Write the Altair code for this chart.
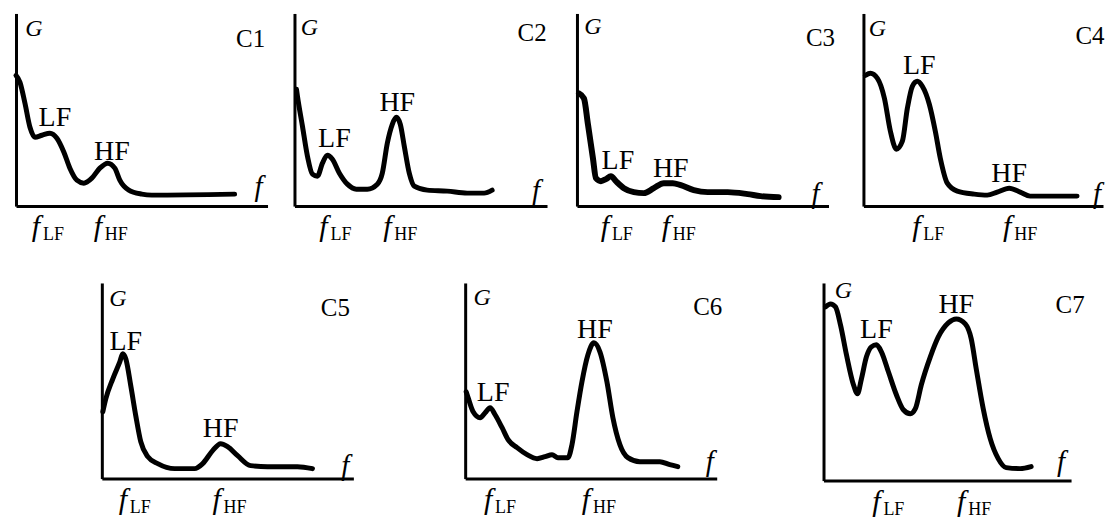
import altair as alt
import pandas as pd

FONT = "Liberation Serif"

# ---- spectral curves (f in arbitrary units, G in arbitrary units) ----
C1_F = [0, 4, 9, 14, 19, 26, 34, 41, 48, 54, 61, 68, 76, 84, 92, 99, 104, 113, 126, 136, 219]
C1_G = [131, 124, 103, 79, 69, 71, 73, 68, 54, 38, 26, 23, 28, 38, 43, 38, 26, 16, 12, 11, 12]

C2_F = [2, 3, 8, 13, 18, 23, 28, 33, 38, 45, 53, 62, 73, 83, 88, 93, 98, 102, 106, 110, 115, 120, 133, 153, 173, 190, 198]
C2_G = [117, 110, 80, 50, 32, 30, 43, 51, 47, 33, 22, 17, 17, 22, 33, 63, 82, 89, 82, 60, 33, 20, 16, 15, 13, 13, 16]

C3_F = [2, 7, 11, 16, 19, 24, 29, 34, 39, 47, 57, 67, 77, 87, 96, 104, 117, 131, 151, 171, 184, 202]
C3_G = [113, 108, 82, 48, 28, 25, 27, 30, 25, 18, 14, 13, 18, 23, 23, 21, 16, 14, 14, 12, 10, 9]

C4_F = [2, 7, 14, 21, 27, 33, 39, 44, 49, 54, 59, 66, 72, 77, 84, 94, 111, 124, 134, 146, 157, 167, 214]
C4_G = [131, 133, 128, 108, 75, 57, 65, 98, 120, 125, 120, 102, 75, 48, 23, 15, 12, 11, 14, 18, 14, 10, 10]

C5_F = [1, 4, 11, 18, 21, 24, 29, 34, 39, 46, 56, 73, 93, 101, 111, 119, 126, 136, 149, 166, 196, 211]
C5_G = [67, 80, 100, 117, 125, 120, 93, 63, 37, 22, 15, 10, 10, 15, 28, 35, 32, 23, 13, 12, 12, 10]

C6_F = [1, 3, 8, 15, 20, 25, 30, 37, 43, 52, 62, 72, 80, 87, 93, 103, 107, 112, 117, 123, 129, 135, 142, 148, 155, 163, 175, 195, 205, 213]
C6_G = [87, 81, 67, 61, 66, 71, 64, 51, 39, 31, 24, 20, 22, 24, 21, 21, 34, 67, 97, 124, 136, 127, 97, 61, 34, 21, 17, 17, 14, 12]

C7_F = [2, 7, 12, 17, 23, 30, 34, 38, 43, 48, 53, 58, 65, 73, 80, 87, 92, 98, 107, 115, 125, 133, 142, 148, 153, 160, 167, 175, 183, 197, 208]
C7_G = [174, 177, 174, 156, 126, 96, 87, 102, 124, 134, 136, 129, 109, 86, 71, 67, 72, 96, 124, 144, 158, 162, 157, 142, 112, 72, 42, 22, 13, 12, 14]

CURVES_F = [C1_F, C2_F, C3_F, C4_F, C5_F, C6_F, C7_F]
CURVES_G = [C1_G, C2_G, C3_G, C4_G, C5_G, C6_G, C7_G]

# ---- annotations ----
PANEL_NAMES = ["C1", "C2", "C3", "C4", "C5", "C6", "C7"]
PEAK_NAMES = ["LF", "HF"]
LF_LABEL_F = [39, 40, 41, 56, 24, 28, 53]
LF_LABEL_G = [88, 67, 45, 140, 137, 86, 151]
HF_LABEL_F = [96, 103, 94, 146, 119, 130, 133]
HF_LABEL_G = [54, 103, 37, 32, 50, 149, 176]
NAME_F = [235, 238, 244, 227, 234, 243, 247]
NAME_G = [167, 173, 168, 170, 171, 172, 176]
GAXIS_F = [18, 15, 16, 14, 16, 17, 20]
GAXIS_G = [177, 178, 179, 177, 180, 181, 190]
FAXIS_F = [243, 242, 239, 234, 244, 245, 238]
FAXIS_G = [19, 15, 12, 12, 13, 17, 19]
TICK_LF = [31, 40, 39, 64, 32, 34, 64]
TICK_HF = [93, 104, 100, 155, 126, 132, 149]

# ---- layout ----
WIDTHS = [252, 253, 252, 240, 252, 252, 248]
HEIGHTS = [193, 193, 193, 193, 196, 196, 198]
STROKES = [5, 5, 6, 5, 5, 5, 5]


def panel(i):
    w, h = WIDTHS[i], HEIGHTS[i]
    axis = alt.Axis(domain=True, domainColor="black", domainWidth=3,
                    ticks=False, labels=False, grid=False, title=None)
    xs = alt.Scale(domain=[0, w], nice=False, zero=False)
    ys = alt.Scale(domain=[0, h], nice=False, zero=False)

    def X(field):
        return alt.X(field, type="quantitative", scale=xs, axis=axis)

    def Y(field):
        return alt.Y(field, type="quantitative", scale=ys, axis=axis)

    curve_df = pd.DataFrame({"f": CURVES_F[i], "G": CURVES_G[i]})
    curve = alt.Chart(curve_df).mark_line(
        color="black", strokeWidth=STROKES[i], interpolate="monotone",
        strokeCap="round", strokeJoin="round"
    ).encode(x=X("f"), y=Y("G"))

    peak_df = pd.DataFrame({
        "t": PEAK_NAMES,
        "f": [LF_LABEL_F[i], HF_LABEL_F[i]],
        "G": [LF_LABEL_G[i], HF_LABEL_G[i]],
    })
    peaks = alt.Chart(peak_df).mark_text(
        font=FONT, fontSize=28, align="center", baseline="middle", color="black"
    ).encode(x=X("f"), y=Y("G"), text="t:N")

    name_df = pd.DataFrame({"t": [PANEL_NAMES[i]], "f": [NAME_F[i]], "G": [NAME_G[i]]})
    name = alt.Chart(name_df).mark_text(
        font=FONT, fontSize=25, align="center", baseline="middle", color="black"
    ).encode(x=X("f"), y=Y("G"), text="t:N")

    g_df = pd.DataFrame({"t": ["G"], "f": [GAXIS_F[i]], "G": [GAXIS_G[i]]})
    glab = alt.Chart(g_df).mark_text(
        font=FONT, fontSize=24, fontStyle="italic", align="center",
        baseline="middle", color="black"
    ).encode(x=X("f"), y=Y("G"), text="t:N")

    f_df = pd.DataFrame({"t": ["f"], "f": [FAXIS_F[i]], "G": [FAXIS_G[i]]})
    flab = alt.Chart(f_df).mark_text(
        font=FONT, fontSize=29, fontStyle="italic", align="center",
        baseline="middle", color="black"
    ).encode(x=X("f"), y=Y("G"), text="t:N")

    tick_df = pd.DataFrame({"sub": PEAK_NAMES, "pos": [TICK_LF[i], TICK_HF[i]]})
    tick_main = alt.Chart(tick_df).mark_text(
        font=FONT, fontSize=30, fontStyle="italic", align="center",
        baseline="middle", dx=-11, color="black", text="f"
    ).encode(x=X("pos"), y=alt.value(h + 21))
    tick_sub = alt.Chart(tick_df).mark_text(
        font=FONT, fontSize=18, align="left", baseline="middle",
        dx=-4, color="black"
    ).encode(x=X("pos"), y=alt.value(h + 29), text="sub:N")

    return alt.layer(curve, peaks, name, glab, flab, tick_main, tick_sub).properties(
        width=w, height=h
    )


def spacer(w):
    return alt.Chart(pd.DataFrame({"v": [0]})).mark_point(
        opacity=0, size=0
    ).encode(x=alt.value(0), y=alt.value(0)).properties(width=w, height=10)


row1 = alt.hconcat(
    panel(0), spacer(27), panel(1), spacer(30), panel(2), spacer(35), panel(3),
    spacing=0, bounds="flush"
)
row2 = alt.hconcat(
    spacer(86), panel(4), spacer(112), panel(5), spacer(107), panel(6),
    spacing=0, bounds="flush"
)

chart = alt.vconcat(row1, row2, spacing=35).properties(
    padding={"left": 5, "top": 5, "right": 0, "bottom": 0},
    background="white",
).configure_view(strokeWidth=0)

chart.save("out.html", embed_options={"renderer": "svg", "actions": False})
